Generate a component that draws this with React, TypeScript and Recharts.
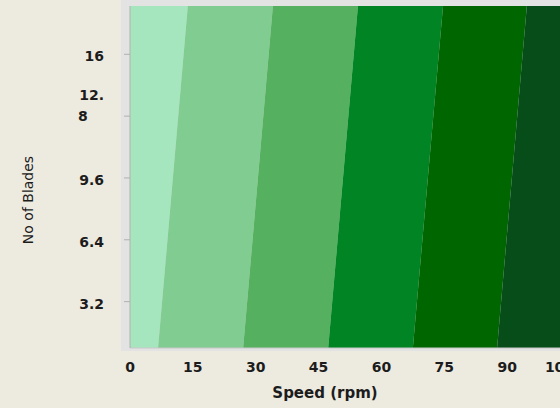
import React from 'react';
import { ComposedChart, Area, XAxis, YAxis } from 'recharts';

// contour grid runs between these blade counts
const bladeRange = [0.8, 18.5];
// band edges (speed, rpm) along the bottom and top of the grid
const edgesAtLow = [0, 6.7, 27.0, 47.3, 67.5, 87.6, 105];
const edgesAtHigh = [0, 13.8, 34.1, 54.4, 74.7, 94.7, 105];
const bandColors = ['#A6E6BF', '#80CC91', '#55B05F', '#008424', '#006600', '#074D1A'];

const speedTicks = [0, 15, 30, 45, 60, 75, 90, 105];
const bladeTicks = [3.2, 6.4, 9.6, 12.8, 16];

const chartData = bladeRange.map((b, i) => {
  const edges = i === 0 ? edgesAtLow : edgesAtHigh;
  const row: Record<string, any> = { blades: b };
  bandColors.forEach((_, k) => {
    row['band' + k] = [edges[k], edges[k + 1]];
  });
  return row;
});

const tickFont = { fontFamily: 'DejaVu Sans', fontWeight: 'bold', fontSize: 14, fill: '#1c1c1c' };

function BladeTick({ x, y, payload }: any) {
  const s = String(payload.value);
  if (s.length > 3) {
    // long labels wrap like the original: "12." above, "8" on the tick
    return (
      <g>
        <text x={x} y={y - 21} dy="0.36em" textAnchor="end" {...tickFont}>
          {s.slice(0, 3)}
        </text>
        <text x={x - 26} y={y} dy="0.36em" textAnchor="start" {...tickFont}>
          {s.slice(3)}
        </text>
      </g>
    );
  }
  return (
    <text x={x} y={y + 2} dy="0.36em" textAnchor="end" {...tickFont}>
      {s}
    </text>
  );
}

export default function App() {
  return (
    <div
      style={{
        position: 'absolute',
        left: 0,
        top: 0,
        width: 560,
        height: 408,
        overflow: 'hidden',
        background: '#EDEAE0',
      }}
    >
      <div
        style={{ position: 'absolute', left: 121, top: 0, width: 450, height: 351, background: '#E3E3E3' }}
      />
      <div style={{ position: 'absolute', left: 0, top: 0 }}>
        <ComposedChart
          width={570}
          height={408}
          data={chartData}
          layout="vertical"
          margin={{ top: 6, right: 0, bottom: 0, left: 0 }}
        >
          <XAxis
            type="number"
            domain={[0, 105]}
            ticks={speedTicks}
            allowDataOverflow
            height={60}
            tickLine={false}
            tickSize={0}
            tickMargin={14}
            axisLine={{ stroke: '#c8c8c8' }}
            tick={tickFont}
            label={{
              content: ({ viewBox }: any) => (
                <text
                  x={viewBox.x + viewBox.width / 2 - 25}
                  y={viewBox.y + 50}
                  textAnchor="middle"
                  fontFamily="DejaVu Sans"
                  fontWeight="bold"
                  fontSize={15}
                  fill="#1c1c1c"
                >
                  Speed (rpm)
                </text>
              ),
            }}
          />
          <YAxis
            type="number"
            dataKey="blades"
            domain={bladeRange}
            ticks={bladeTicks}
            allowDataOverflow
            reversed
            interval={0}
            width={130}
            tickSize={6}
            tickMargin={20}
            tickLine={{ stroke: '#b0b0b0' }}
            axisLine={{ stroke: '#b0b0b0' }}
            tick={<BladeTick />}
            label={{
              content: ({ viewBox }: any) => (
                <text
                  x={28}
                  y={viewBox.y + viewBox.height / 2 + 23}
                  transform={`rotate(-90 28 ${viewBox.y + viewBox.height / 2 + 23})`}
                  textAnchor="middle"
                  dominantBaseline="central"
                  fontFamily="DejaVu Sans"
                  fontSize={14}
                  fill="#1c1c1c"
                >
                  No of Blades
                </text>
              ),
            }}
          />
          {bandColors.map((c, k) => (
            <Area
              key={k}
              type="linear"
              dataKey={'band' + k}
              stroke="none"
              fill={c}
              fillOpacity={1}
              isAnimationActive={false}
              activeDot={false}
              dot={false}
            />
          ))}
        </ComposedChart>
      </div>
    </div>
  );
}
